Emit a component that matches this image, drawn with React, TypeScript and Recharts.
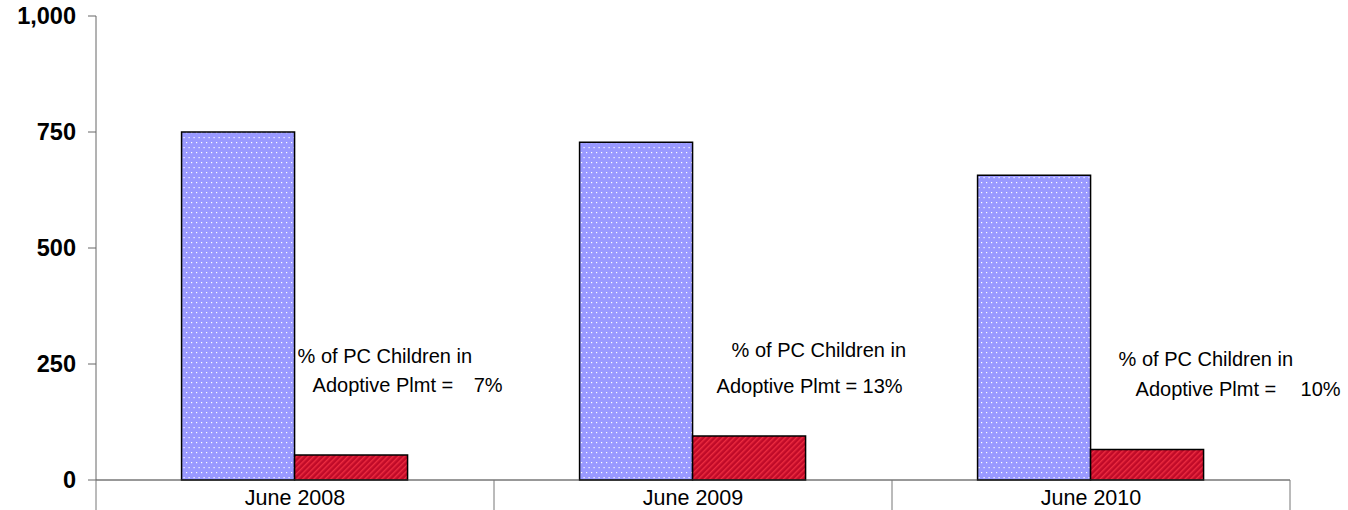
import { BarChart, Bar, XAxis, YAxis, Rectangle } from "recharts";

const categories = ["June 2008", "June 2009", "June 2010"];
const totalChildren = [750, 728, 657];
const adoptiveChildren = [54, 95, 66];
const adoptivePct = ["7%", "13%", "10%"];
const yTicks = [0, 250, 500, 750, 1000];

const data = categories.map((name, i) => ({
  name,
  total: totalChildren[i],
  adoptive: adoptiveChildren[i],
  pct: adoptivePct[i],
}));

const W = 1348;
const H = 510;
const MARGIN = { top: 16, right: 58, left: 0, bottom: 0 };
const Y_W = 96;
const X_H = 30;
const HALF_BAND = (W - MARGIN.left - MARGIN.right - Y_W) / categories.length / 2;
const FONT = '"Liberation Sans", Arial, sans-serif';

// text placement for the note next to each red bar (offsets from the bar's left / bottom)
const NOTE_LAYOUT = [
  { l1: 3, l2: 18, pctEnd: 208, b1: -117, b2: -88 },
  { l1: 39, l2: 24, pctEnd: 210, b1: -123, b2: -87 },
  { l1: 28, l2: 45, pctEnd: 250, b1: -114, b2: -84 },
];

function CategoryTick(props: any) {
  const { x, y, payload, index } = props;
  return (
    <g>
      {index === 0 && (
        <line x1={x - HALF_BAND} x2={x - HALF_BAND} y1={y} y2={y + X_H} stroke="#777" />
      )}
      <line x1={x + HALF_BAND} x2={x + HALF_BAND} y1={y} y2={y + X_H} stroke="#777" />
      <text x={x} y={y + 25} textAnchor="middle" fontSize={21.5} fontFamily={FONT} fill="#000">
        {payload.value}
      </text>
    </g>
  );
}

function AdoptiveBar(props: any) {
  const { x, y, width, height, index, payload } = props;
  const n = NOTE_LAYOUT[index] ?? NOTE_LAYOUT[0];
  const bottom = y + height;
  const txt = { fontSize: 20, fontFamily: FONT, fill: "#000" };
  return (
    <g>
      <Rectangle x={x} y={y} width={width} height={height} fill="url(#hatch)" stroke="#000" strokeWidth={1.5} />
      <text x={x + n.l1} y={bottom + n.b1} {...txt}>
        % of PC Children in
      </text>
      <text x={x + n.l2} y={bottom + n.b2} {...txt}>
        Adoptive Plmt =
      </text>
      <text x={x + n.pctEnd} y={bottom + n.b2} textAnchor="end" {...txt}>
        {payload.pct}
      </text>
    </g>
  );
}

export default function App() {
  return (
    <div style={{ position: "absolute", left: 0, top: 0, width: W, height: H, background: "#fff" }}>
      <BarChart width={W} height={H} data={data} margin={MARGIN} barCategoryGap="21.5%" barGap={0}>
        <defs>
          <pattern id="dots" patternUnits="userSpaceOnUse" width="5" height="10">
            <rect width="5" height="10" fill="#9999FF" />
            <rect x="1" y="2" width="1.2" height="1.2" fill="#fff" />
            <rect x="3.5" y="7" width="1.2" height="1.2" fill="#fff" />
          </pattern>
          <pattern id="hatch" patternUnits="userSpaceOnUse" width="4" height="4" patternTransform="rotate(45)">
            <rect width="4" height="4" fill="#C00A28" />
            <rect x="0" y="0" width="1.4" height="4" fill="#EC2C40" />
          </pattern>
        </defs>
        <XAxis
          dataKey="name"
          height={X_H}
          interval={0}
          tickLine={false}
          tickSize={0}
          tickMargin={0}
          axisLine={{ stroke: "#333" }}
          tick={<CategoryTick />}
        />
        <YAxis
          width={Y_W}
          domain={[0, 1000]}
          ticks={yTicks}
          interval={0}
          tickSize={8}
          tickMargin={12}
          axisLine={{ stroke: "#666" }}
          tickLine={{ stroke: "#666" }}
          tickFormatter={(v: number) => v.toLocaleString("en-US")}
          tick={{ fill: "#000", fontSize: 23.5, fontWeight: "bold", fontFamily: FONT }}
        />
        <Bar dataKey="total" fill="url(#dots)" stroke="#000" strokeWidth={1.5} isAnimationActive={false} />
        <Bar dataKey="adoptive" fill="url(#hatch)" shape={AdoptiveBar} isAnimationActive={false} />
      </BarChart>
    </div>
  );
}
